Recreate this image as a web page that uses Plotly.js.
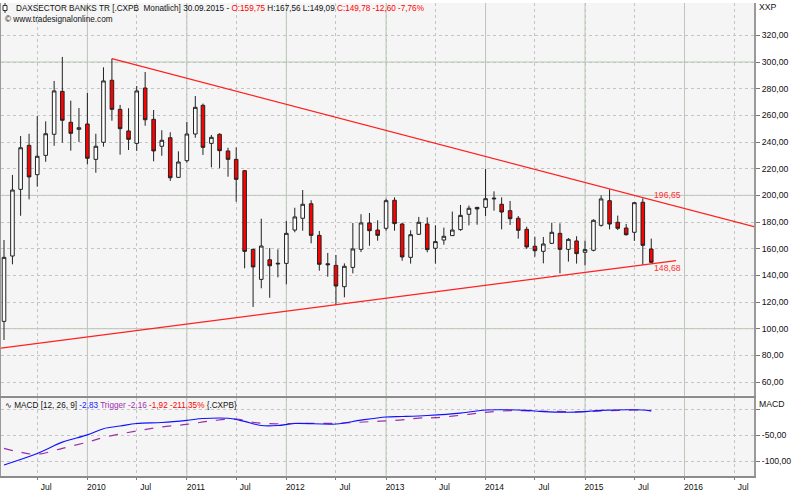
<!DOCTYPE html>
<html><head><meta charset="utf-8">
<script src="https://cdn.plot.ly/plotly-3.0.1.min.js"></script>
<style>html,body{margin:0;padding:0;background:#fff}#chart{width:800px;height:491px}</style>
</head><body><div id="chart"></div>
<script>
// ---- data ----
const months = ['2009-03-01','2009-04-01','2009-05-01','2009-06-01','2009-07-01','2009-08-01','2009-09-01','2009-10-01','2009-11-01','2009-12-01',
'2010-01-01','2010-02-01','2010-03-01','2010-04-01','2010-05-01','2010-06-01','2010-07-01','2010-08-01','2010-09-01','2010-10-01','2010-11-01','2010-12-01',
'2011-01-01','2011-02-01','2011-03-01','2011-04-01','2011-05-01','2011-06-01','2011-07-01','2011-08-01','2011-09-01','2011-10-01','2011-11-01','2011-12-01',
'2012-01-01','2012-02-01','2012-03-01','2012-04-01','2012-05-01','2012-06-01','2012-07-01','2012-08-01','2012-09-01','2012-10-01','2012-11-01','2012-12-01',
'2013-01-01','2013-02-01','2013-03-01','2013-04-01','2013-05-01','2013-06-01','2013-07-01','2013-08-01','2013-09-01','2013-10-01','2013-11-01','2013-12-01',
'2014-01-01','2014-02-01','2014-03-01','2014-04-01','2014-05-01','2014-06-01','2014-07-01','2014-08-01','2014-09-01','2014-10-01','2014-11-01','2014-12-01',
'2015-01-01','2015-02-01','2015-03-01','2015-04-01','2015-05-01','2015-06-01','2015-07-01','2015-08-01','2015-09-01'];
const openV  = [105.5,154.5,204.5,237.5,215.5,230.0,245.8,278.0,254.8,249.5, 253.5,227.0,239.8,286.3,264.5,248.3,239.0,280.5,257.0,236.8,243.2,213.5,
 226.0,246.0,267.5,239.0,245.8,233.3,227.0,218.5,159.5,137.0,151.7,148.5, 149.0,174.0,182.8,193.7,170.0,148.7,147.5,131.5,146.0,159.5,179.3,174.0,
 175.3,196.3,178.5,153.5,170.8,178.5,160.3,166.5,169.8,174.3,185.8,191.0, 191.0,197.3,193.3,188.5,182.8,174.5,161.8,158.0,164.0,171.5,159.5,165.8,
 157.3,158.8,177.5,196.0,179.8,175.5,172.3,194.8,159.75];
const highV  = [166.5,215.3,244.5,246.2,259.5,255.5,285.8,303.8,271.0,265.5, 276.8,246.2,296.0,302.5,267.8,265.3,282.0,292.5,264.0,248.8,247.3,233.0,
 255.0,274.5,268.8,245.3,246.5,235.7,236.0,219.0,160.0,182.5,160.5,159.5, 180.8,190.7,204.0,196.3,173.3,156.8,155.3,149.0,179.3,185.8,186.8,181.3,
 197.5,198.5,179.5,173.8,183.8,183.5,177.5,175.8,187.8,192.8,192.3,191.3, 219.8,203.0,198.5,195.8,184.5,176.5,169.0,168.8,179.5,179.0,168.0,169.3,
 166.0,182.0,200.0,204.5,184.8,178.5,195.0,197.8,167.56];
const lowV   = [91.5,148.3,184.7,197.0,206.5,225.2,237.2,239.5,233.5,240.0, 223.3,217.0,236.5,256.0,230.5,234.0,233.3,252.2,225.5,229.7,210.8,213.0,
 224.5,243.2,230.3,221.0,220.3,214.0,195.2,145.3,116.3,130.3,123.2,138.5, 133.3,172.3,173.5,164.0,143.5,139.0,118.0,123.5,141.5,157.5,162.2,166.0,
 173.5,173.5,151.0,148.8,170.5,157.3,148.8,163.0,169.5,173.5,177.5,178.0, 184.5,188.5,174.5,177.8,167.5,159.8,154.0,149.0,163.5,141.5,150.3,148.8,
 147.5,158.0,176.5,174.5,174.0,169.8,165.8,147.8,149.09];
const closeV = [153.5,204.0,235.7,213.8,229.3,246.2,278.3,256.3,246.5,250.7, 227.8,236.8,285.8,264.5,250.0,242.0,278.3,256.7,233.3,241.3,213.2,225.0,
 246.0,266.0,236.0,243.5,233.5,227.0,212.0,158.0,146.3,162.0,147.2,149.0, 171.5,183.8,193.3,170.0,148.3,148.0,132.0,146.8,159.8,179.3,173.5,170.0,
 196.0,178.8,153.8,170.5,179.8,159.3,165.3,169.3,174.0,185.0,190.3,189.8, 197.5,197.8,187.5,182.5,173.8,161.3,158.5,163.5,172.3,159.5,167.0,156.3,
 159.3,181.3,197.3,178.5,175.3,170.5,194.5,162.5,149.78];

// trend lines (two end points each)
const upperDates = ['2010-04-01','2016-09-12'];
const upperVals  = [302.5,176.5];
const lowerDates = ['2009-02-18','2015-12-01'];
const lowerVals  = [85.4,151.1];

// MACD panel
const macdDates = ['2009-03-01','2009-07-01','2009-10-01','2010-01-01','2010-03-01','2010-05-01','2010-07-01','2010-10-01','2011-01-01','2011-03-01',
 '2011-06-01','2011-08-01','2011-10-01','2011-12-01','2012-02-01','2012-07-01','2012-10-01','2013-01-01','2013-03-01','2013-06-01','2013-10-01',
 '2014-01-01','2014-03-01','2014-06-01','2014-08-01','2014-11-01','2015-01-01','2015-03-01','2015-07-01','2015-08-01','2015-09-01'];
const macdVals  = [-107,-85,-63,-49,-37,-32,-27,-25,-21,-17.5, -17,-23,-31,-31,-27,-28,-20.5,-14.5,-13.5,-11.5,-7, -1,-0.4,-1.6,-4.2,-5.4,-4.2,-1.6,-0.4,-1,-2.83];
const trigDates = ['2009-03-01','2009-05-01','2009-07-01','2009-10-01','2010-01-01','2010-03-01','2010-07-01','2010-10-01','2011-01-01','2011-04-01',
 '2011-07-01','2011-09-01','2011-11-01','2012-03-01','2012-07-01','2012-11-01','2013-03-01','2013-05-01','2013-07-01','2013-11-01','2014-01-01',
 '2014-04-01','2014-07-01','2014-11-01','2015-01-01','2015-04-01','2015-07-01','2015-08-01','2015-09-01'];
const trigVals  = [-75,-82.6,-86.5,-75,-63,-54,-41.5,-33.8,-28.6,-22, -18.3,-24.7,-27.4,-26.7,-26.7,-23.5,-20,-16.5,-15.8,-9.3,-5.4, -2.3,-2.9,-4.2,-4.2,-2.3,-1,-1.6,-2.16];

// axis ticks
const xTickVals = ['2009-07-01','2010-01-01','2010-07-01','2011-01-01','2011-07-01','2012-01-01','2012-07-01','2013-01-01','2013-07-01',
 '2014-01-01','2014-07-01','2015-01-01','2015-07-01','2016-01-01','2016-07-01'];
const xTickText = ['Jul','2010','Jul','2011','Jul','2012','Jul','2013','Jul','2014','Jul','2015','Jul','2016','Jul'];
const yearLines = ['2010-01-01','2011-01-01','2012-01-01','2013-01-01','2014-01-01','2015-01-01','2016-01-01'];
const priceTicks = [60,80,100,120,140,160,180,200,220,240,260,280,300,320];
const priceSolid = [100,200,300];
const macdTicks = [0,-50,-100];
const macdTickText = ['','-50,00','-100,00'];

// ---- layout helpers ----
const W=800,H=491,ML=1,MR=46,MT=3,MB=15;
const PW=W-ML-MR, PH=H-MT-MB;
const px = x => (x-ML)/PW;
const py = y => (H-MB-y)/PH;
const FONT='Liberation Sans, Arial, sans-serif';
const GRIDC='#c4c4c4', SOLIDC='#b5c9b1';

const traces = [
 {type:'candlestick', x:months, open:openV, high:highV, low:lowV, close:closeV, xaxis:'x', yaxis:'y',
  increasing:{line:{color:'#222222',width:1}, fillcolor:'#ffffff'},
  decreasing:{line:{color:'#222222',width:1}, fillcolor:'#ff0000'},
  whiskerwidth:0, hoverinfo:'skip', showlegend:false},
 {type:'scatter', mode:'lines', x:upperDates, y:upperVals, xaxis:'x', yaxis:'y', line:{color:'#ff2020',width:1.2}, hoverinfo:'skip', showlegend:false},
 {type:'scatter', mode:'lines', x:lowerDates, y:lowerVals, xaxis:'x', yaxis:'y', line:{color:'#ff2020',width:1.2}, hoverinfo:'skip', showlegend:false},
 {type:'scatter', mode:'lines', x:trigDates, y:trigVals, xaxis:'x2', yaxis:'y2', line:{color:'#9b30a8',width:1.2,dash:'dash',shape:'spline'}, hoverinfo:'skip', showlegend:false},
 {type:'scatter', mode:'lines', x:macdDates, y:macdVals, xaxis:'x2', yaxis:'y2', line:{color:'#1010ff',width:1.1,shape:'spline'}, hoverinfo:'skip', showlegend:false}
];

const xRange=['2009-02-18','2016-09-12'];
const priceBottom=py(395.5), macdTop=py(398);

const shapes=[];
yearLines.forEach(d=>{
  shapes.push({type:'line',xref:'x',yref:'paper',x0:d,x1:d,y0:priceBottom,y1:1,line:{color:SOLIDC,width:1},layer:'between'});
  shapes.push({type:'line',xref:'x2',yref:'paper',x0:d,x1:d,y0:0,y1:macdTop,line:{color:SOLIDC,width:1},layer:'between'});
});
priceSolid.forEach(v=>{
  shapes.push({type:'line',xref:'paper',yref:'y',x0:0,x1:1,y0:v,y1:v,line:{color:SOLIDC,width:1},layer:'between'});
});
// small candle icon in the header
shapes.push({type:'line',xref:'paper',yref:'paper',x0:px(5),x1:px(5),y0:py(3),y1:py(13),line:{color:'#333',width:1}});
shapes.push({type:'rect',xref:'paper',yref:'paper',x0:px(3),x1:px(7),y0:py(5.5),y1:py(10.5),line:{color:'#333',width:1},fillcolor:'#fff'});

const ann = (x,y,text,opts={}) => Object.assign({xref:'paper',yref:'paper',x:px(x),y:py(y),text:text,showarrow:false,
  xanchor:'left',yanchor:'middle',font:{family:FONT,size:8.7,color:'#111'}},opts);
const HF={family:FONT,size:8.2,color:'#111'};

const annotations=[
 ann(14,8,'DAXSECTOR BANKS TR [.CXPB  Monatlich] 30.09.2015 - <span style="color:#ff0000">O:159,75</span> H:167,56 L:149,09 <span style="color:#ff0000">C:149,78 -12,60 -7,76%</span>',{font:HF}),
 ann(3,20,'© www.tradesignalonline.com',{font:HF}),
 ann(3,405,'∿ MACD [12, 26, 9] <span style="color:#2020ff">-2,83</span> <span style="color:#a030b0">Trigger -2,16</span> <span style="color:#ff0000">-1,92 -211,35%</span> {.CXPB}',{font:HF}),
 ann(757,7,'XXP'),
 ann(757,404,'MACD'),
 ann(652,195,'196,65',{font:{family:FONT,size:8.7,color:'#ff3030'}}),
 ann(652,268,'148,68',{font:{family:FONT,size:8.7,color:'#ff3030'}})
];

const layout={
 width:W,height:H,margin:{l:ML,r:MR,t:MT,b:MB,pad:0},
 paper_bgcolor:'#ffffff',plot_bgcolor:'#f5f5f5',
 separators:',.',showlegend:false,boxgap:0.33,
 font:{family:FONT,size:8.7,color:'#111'},
 xaxis:{type:'date',range:xRange,domain:[0,1],anchor:'y',rangeslider:{visible:false},
   tickmode:'array',tickvals:xTickVals,ticktext:xTickText,showticklabels:false,ticks:'',
   showgrid:true,gridcolor:GRIDC,griddash:'dot',gridwidth:1,
   showline:true,linecolor:'#8c8c8c',linewidth:2,zeroline:false,fixedrange:true},
 yaxis:{domain:[priceBottom,1],range:[49.9,344.25],side:'right',anchor:'x',
   tickmode:'array',tickvals:priceTicks,tickformat:'.2f',
   ticks:'outside',ticklen:4,tickcolor:'#777',
   showgrid:true,gridcolor:GRIDC,griddash:'dot',gridwidth:1,
   showline:true,mirror:true,linecolor:'#9a9a9a',linewidth:2,zeroline:false,
   tickfont:{family:FONT,size:8.7,color:'#111'},fixedrange:true},
 xaxis2:{type:'date',range:xRange,domain:[0,1],anchor:'y2',matches:'x',
   tickmode:'array',tickvals:xTickVals,ticktext:xTickText,
   ticks:'outside',ticklen:2,tickcolor:'#777',ticklabelshift:9,ticklabelstandoff:0,
   showgrid:true,gridcolor:GRIDC,griddash:'dot',gridwidth:1,
   showline:true,mirror:true,linecolor:'#8c8c8c',linewidth:2,zeroline:false,
   tickfont:{family:FONT,size:8.5,color:'#111'},fixedrange:true},
 yaxis2:{domain:[0,macdTop],range:[-128.4,22.2],side:'right',anchor:'x2',
   tickmode:'array',tickvals:macdTicks,ticktext:macdTickText,
   ticks:'outside',ticklen:4,tickcolor:'#777',
   showgrid:true,gridcolor:GRIDC,griddash:'dot',gridwidth:1,
   showline:true,mirror:true,linecolor:'#9a9a9a',linewidth:2,zeroline:false,
   tickfont:{family:FONT,size:8.7,color:'#111'},fixedrange:true},
 shapes:shapes,annotations:annotations
};

Plotly.newPlot('chart',traces,layout,{staticPlot:true,displayModeBar:false});
</script></body></html>
